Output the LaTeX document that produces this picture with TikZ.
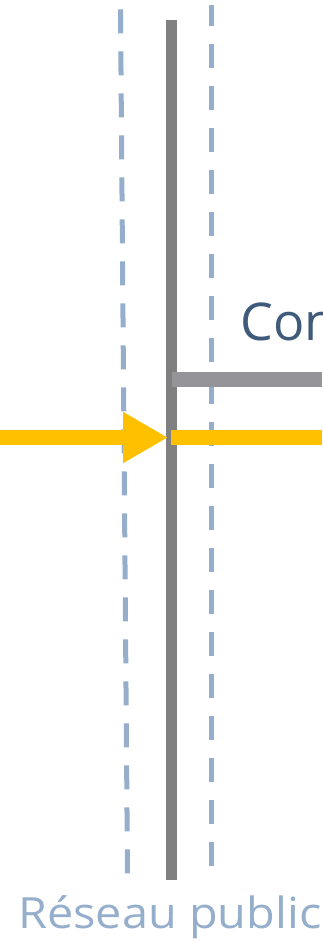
\documentclass[tikz,border=0pt]{standalone}
\usepackage{fontspec}
\setmainfont{Open Sans}
\usetikzlibrary{arrows.meta}
\definecolor{dashblue}{HTML}{94AECB}
\definecolor{bargray}{HTML}{808080}
\definecolor{branchgray}{HTML}{959499}
\definecolor{flowyellow}{HTML}{FFC000}
\definecolor{labelblue}{HTML}{3F5A7A}
\tikzset{
  boundary/.style={draw=dashblue, line width=5pt, dash pattern=on 24pt off 18pt},
  busbar/.style={draw=bargray, line width=11pt},
  branch/.style={draw=branchgray, line width=15pt},
  flow/.style={draw=flowyellow, line width=15pt},
}
\begin{document}
\begin{tikzpicture}[x=1pt,y=-1pt]
\useasboundingbox (0,0) rectangle (322,942);
\clip (0,0) rectangle (322,942);
% coordinates
\coordinate (ltop) at (120.5,9.3);
\coordinate (lbot) at (127.5,873.3);
\coordinate (rtop) at (211,5);
\coordinate (rbot) at (211,866);
\coordinate (btop) at (171.5,20);
\coordinate (bbot) at (171.5,880);
\coordinate (brs) at (172,379.5);
\coordinate (bre) at (322,379.5);
\coordinate (fin) at (0,437.5);
\coordinate (ftip) at (168,437.5);
\coordinate (fs) at (171,437.5);
\coordinate (fe) at (322,437.5);
% dashed boundaries
\draw[boundary] (ltop) -- (lbot);
\draw[boundary, dash phase=3pt] (rtop) -- (rbot);
% busbar
\draw[busbar] (btop) -- (bbot);
% branch
\draw[branch] (brs) -- (bre);
% flow
\draw[flow, -{Triangle[length=45pt,width=48pt]}] (fin) -- (ftip);
\draw[flow] (fs) -- (fe);
% labels
\node[anchor=base west, inner sep=0pt, text=labelblue, font=\fontsize{52}{60}\selectfont] (con) at (240,340) {Con};
\node[anchor=base west, inner sep=0pt, text=dashblue, xscale=1.09, font=\fontsize{43}{50}\selectfont] (reseau) at (18,928) {Réseau public};
\end{tikzpicture}
\end{document}
